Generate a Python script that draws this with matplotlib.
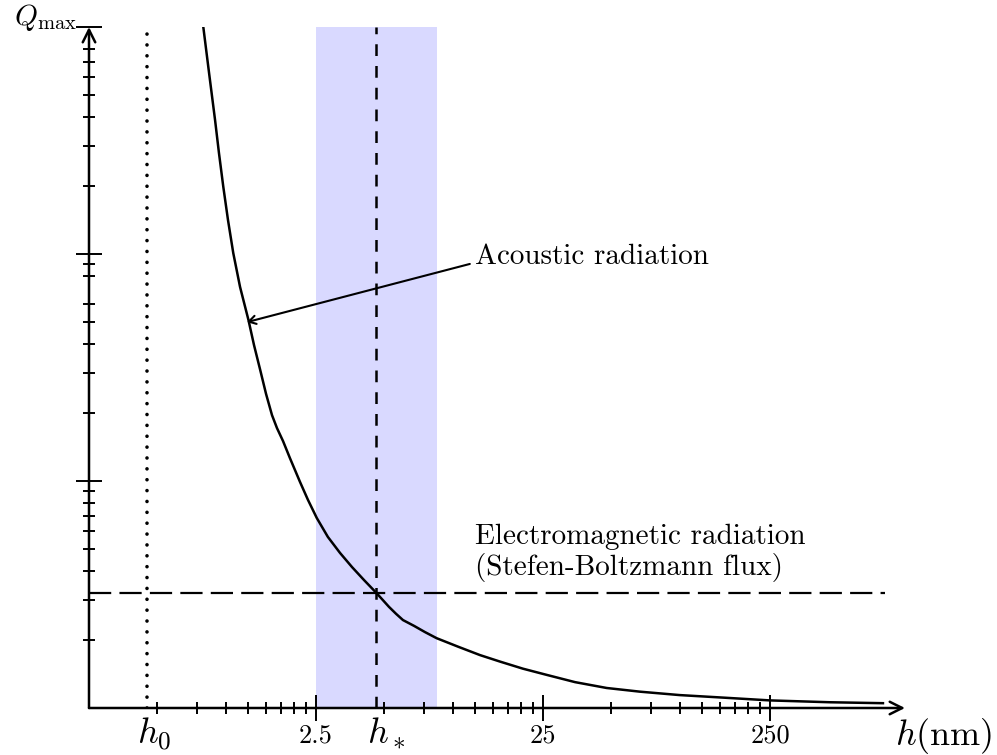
import numpy as np
import matplotlib.pyplot as plt
from matplotlib.ticker import NullFormatter

plt.rcParams['font.family'] = 'cmr10'
plt.rcParams['mathtext.fontset'] = 'cm'
plt.rcParams['axes.unicode_minus'] = False

# acoustic radiation curve (h in nm, Q relative)
h_curve = [0.797, 0.845, 0.898, 0.934, 0.976, 1.024, 1.08, 1.157, 1.26, 1.333,
           1.42, 1.506, 1.60, 1.683, 1.789, 1.92, 2.126, 2.305, 2.52, 2.82,
           3.19, 3.60, 4.07, 4.63, 5.24, 5.63, 6.04, 6.76, 7.55, 8.5,
           10.6, 13.2, 16.2, 20.4, 25.9, 34.6, 47.7, 66.9, 100, 158,
           250, 460, 786]
q_curve = [100, 62.7, 38.9, 27.9, 19.8, 14.1, 10.1, 7.16, 5.12, 3.97,
           3.08, 2.42, 1.95, 1.71, 1.50, 1.26, 0.990, 0.825, 0.687, 0.567,
           0.482, 0.418, 0.366, 0.320, 0.279, 0.260, 0.244, 0.230, 0.216, 0.203,
           0.186, 0.171, 0.160, 0.149, 0.140, 0.130, 0.1225, 0.118, 0.114, 0.111,
           0.108, 0.106, 0.105]

h0 = 0.45
h_star = 4.6
q_em = 0.32            # Stefan-Boltzmann level
band = (2.5, 8.5)      # shaded range around h*

x_major = [2.5, 25, 250]
x_major_labels = ['2.5', '25', '250']
x_minor = [b * k for b in (0.25, 2.5, 25) for k in range(2, 10)]
y_major = [1, 10, 100]
y_minor = [0.2, 0.3, 0.4, 0.5, 0.6, 0.7, 0.8, 0.9,
           2, 3, 4, 5, 6, 8, 9,
           20, 30, 40, 50, 60, 70, 80]

xmin, xmax = 0.25, 983
ymin, ymax = 0.1, 100

fig = plt.figure(figsize=(9.97, 7.55), dpi=100)
ax = fig.add_axes([89 / 997, 47 / 755, 816 / 997, 681 / 755])
ax.set_xscale('log')
ax.set_yscale('log')
ax.set_xlim(xmin, xmax)
ax.set_ylim(ymin, ymax)
for s in ax.spines.values():
    s.set_visible(False)

# shaded band and guide lines
ax.axvspan(band[0], band[1], color='#d9d9ff', lw=0, zorder=0)
ax.plot([h_star, h_star], [ymin, ymax], color='black', lw=1.8,
        linestyle=(0, (4.7, 4.0)), zorder=2)
ax.plot([h0, h0], [ymin, ymax], color='black', lw=2.6,
        linestyle=(0, (0.01, 3.0)), dash_capstyle='round', zorder=2)
ax.plot([xmin, 800], [q_em, q_em], color='black', lw=1.6,
        linestyle=(0, (10, 3.7)), zorder=2)

ax.plot(h_curve, q_curve, color='black', lw=1.8, zorder=3)

# axes with arrows
arrow = dict(arrowstyle='->,head_length=0.9,head_width=0.45', lw=1.8,
             color='black', shrinkA=0, shrinkB=0)
ax.annotate('', xy=(1, 0), xytext=(0, 0), xycoords='axes fraction',
            arrowprops=arrow, zorder=5)
ax.annotate('', xy=(0, 1), xytext=(0, 0), xycoords='axes fraction',
            arrowprops=arrow, zorder=5)

# ticks
ax.set_xticks(x_major, labels=x_major_labels)
ax.set_xticks(x_minor, minor=True)
ax.set_yticks(y_major, labels=[''] * len(y_major))
ax.set_yticks(y_minor, minor=True)
ax.xaxis.set_minor_formatter(NullFormatter())
ax.yaxis.set_minor_formatter(NullFormatter())
ax.tick_params(which='major', direction='inout', length=19, width=1.4,
               labelsize=19, pad=2)
ax.tick_params(which='minor', direction='inout', length=9, width=1.4)

# labels
ax.annotate(r'$h_0$', xy=(h0, ymin), xytext=(5, -6), textcoords='offset points',
            ha='center', va='top', fontsize=26)
ax.annotate(r'$h_*$', xy=(h_star, ymin), xytext=(7, -6), textcoords='offset points',
            ha='center', va='top', fontsize=26)
ax.annotate(r'$h$(nm)', xy=(1, 0), xycoords='axes fraction', xytext=(-7, -6),
            textcoords='offset points', ha='left', va='top', fontsize=26)
ax.annotate(r'$Q_{\mathrm{max}}$', xy=(0, 1), xycoords='axes fraction',
            xytext=(-9, -4), textcoords='offset points', ha='right', va='bottom',
            fontsize=21)

ax.text(12.5, 9.7, 'Acoustic radiation', ha='left', va='center', fontsize=21)
ax.annotate('', xy=(1.24, 5.01), xytext=(11.9, 9.04),
            arrowprops=dict(arrowstyle='->,head_length=0.5,head_width=0.3',
                            lw=1.5, color='black', shrinkA=0, shrinkB=0))
ax.text(12.5, 0.482, 'Electromagnetic radiation\n(Stefen-Boltzmann flux)',
        ha='left', va='center', fontsize=21, linespacing=1.14)

fig.savefig('out.png', dpi=100)
